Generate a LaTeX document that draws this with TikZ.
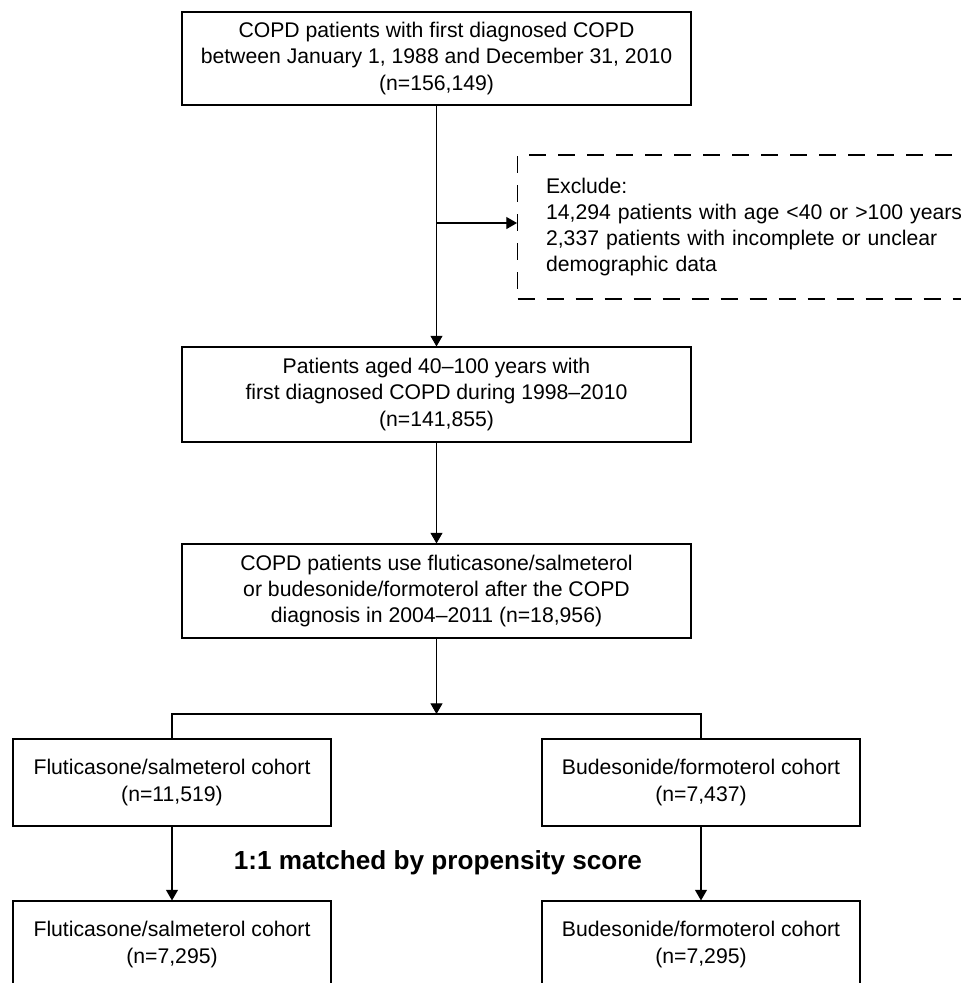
\documentclass[tikz,border=0pt]{standalone}
\usepackage{fontspec}
\setmainfont{Liberation Sans}
\usetikzlibrary{arrows.meta}
\tikzset{
  px/.style={x=0.75pt,y=-0.75pt},
  boxstyle/.style={draw=black, line width=0.8pt, inner sep=0pt, align=center,
    font=\fontsize{15.9pt}{19.8pt}\selectfont},
  dashbox/.style={draw=black, line width=0.8pt, dash pattern=on 12.75pt off 9pt,
    inner ysep=0pt, align=left, font=\fontsize{15.9pt}{19.4pt}\selectfont},
  arr/.style={line width=0.8pt, -{Triangle[length=8pt,width=9pt]}},
  conn/.style={line width=0.8pt},
  boldlabel/.style={font=\bfseries\fontsize{19.6pt}{24pt}\selectfont, inner sep=0pt}
}
\begin{document}
\begin{tikzpicture}[px]
\useasboundingbox (0,0) rectangle (961,983);
\clip (0,0) rectangle (961,983);
\fill[white] (0,0) rectangle (961,983);

\node[boxstyle, minimum width=381.75pt, minimum height=69.75pt] (b1) at (436.5,58.5)
  {COPD patients with first diagnosed COPD\\between January 1, 1988 and December 31, 2010\\(n=156,149)};
\node[dashbox, anchor=west, minimum width=369.75pt, minimum height=108pt,
  inner xsep=21pt, text width=327pt] (excl) at (517,227)
  {Exclude:\\14,294 patients with age <40 or >100 years\\2,337 patients with incomplete or unclear\\demographic data};
\node[boxstyle, minimum width=381.75pt, minimum height=71.25pt] (b2) at (436.5,394.5)
  {Patients aged 40--100 years with\\first diagnosed COPD during 1998--2010\\(n=141,855)};
\node[boxstyle, minimum width=381.75pt, minimum height=70.5pt] (b3) at (436.5,591)
  {COPD patients use fluticasone/salmeterol\\or budesonide/formoterol after the COPD\\diagnosis in 2004--2011 (n=18,956)};
\node[boxstyle, minimum width=238.5pt, minimum height=65.25pt] (b4) at (172,782.5)
  {Fluticasone/salmeterol cohort\\(n=11,519)};
\node[boxstyle, minimum width=238.5pt, minimum height=65.25pt] (b5) at (701,782.5)
  {Budesonide/formoterol cohort\\(n=7,437)};
\node[boldlabel] (lbl) at (438,863) {1:1 matched by propensity score};
\node[boxstyle, minimum width=238.5pt, minimum height=65.25pt] (b6) at (172,944.5)
  {Fluticasone/salmeterol cohort\\(n=7,295)};
\node[boxstyle, minimum width=238.5pt, minimum height=65.25pt] (b7) at (701,944.5)
  {Budesonide/formoterol cohort\\(n=7,295)};

\coordinate (br) at (436.5,223);
\coordinate (j) at (436.5,714);

\draw[arr] (b1.south) -- (b2.north);
\draw[arr] (br) -- (br -| excl.west);
\draw[arr] (b2.south) -- (b3.north);
\draw[arr] (b3.south) -- (j);
\draw[conn] (b4.north) |- (j) -| (b5.north);
\draw[arr] (b4.south) -- (b6.north);
\draw[arr] (b5.south) -- (b7.north);
\end{tikzpicture}
\end{document}
